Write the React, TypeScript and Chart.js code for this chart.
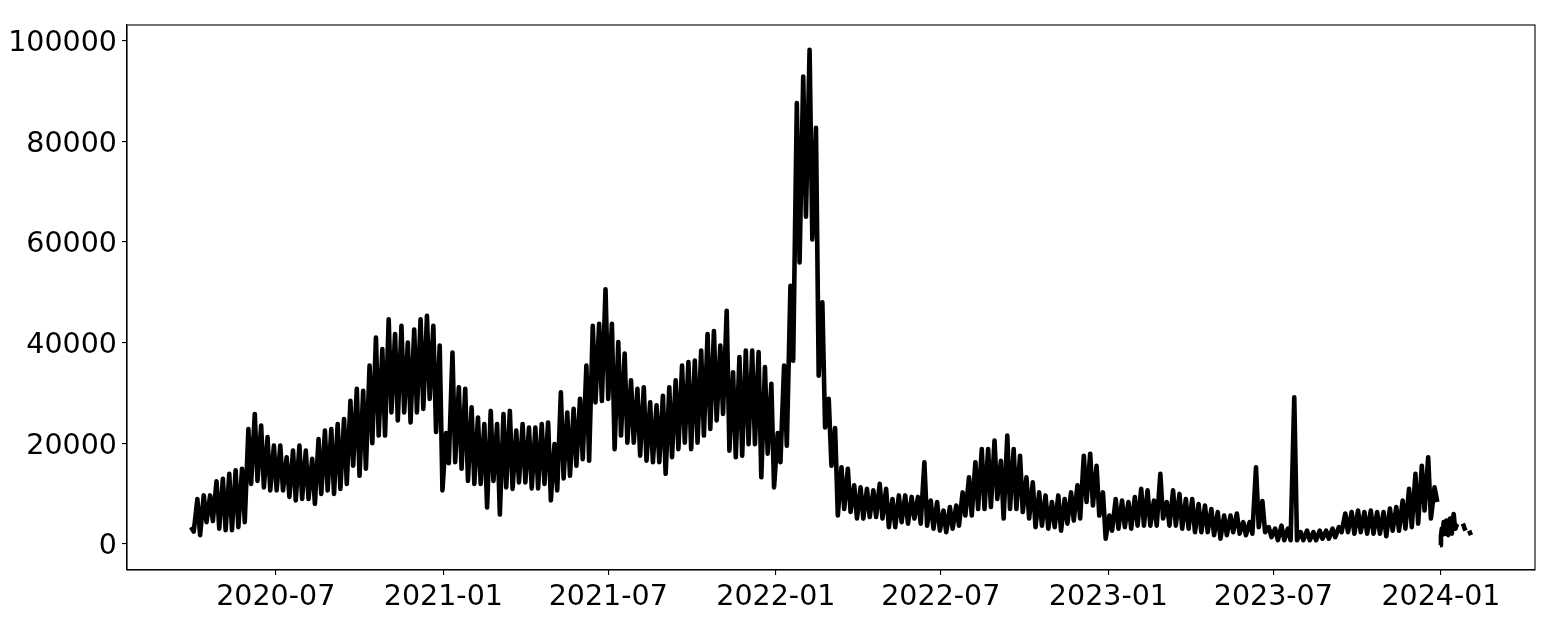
import React, { useEffect, useRef } from "react";
import { Chart, registerables } from "chart.js";

Chart.register(...registerables);

// First day of the first plotted week
const startDate = "2020-03-28";

// Weekly high (mid-week) values, one per week from startDate
const weeklyPeaks: number[] = [
  3300, 8900, 9600, 9600, 12400, 12900, 13900, 14600, 14900, 22800,
  25800, 23500, 21200, 19500, 19500, 17200, 18500, 19500, 18500, 16900,
  20800, 22500, 22800, 23800, 24800, 28400, 30800, 30400, 35400, 41000,
  38700, 44600, 41700, 43300, 40000, 42600, 44600, 45300, 43300, 39400,
  22000, 38000, 31100, 30800, 27100, 25100, 23800, 26400, 23800, 25800,
  26400, 22500, 23800, 23100, 23100, 23800, 24100, 19800, 30100, 26100,
  26800, 28800, 35400, 43300, 43700, 50600, 43700, 40100, 37800, 32500,
  30800, 31100, 28100, 27500, 29400, 31100, 32500, 35400, 36100, 36400,
  38400, 41700, 42300, 39400, 46300, 34100, 37100, 38400, 38400, 38100,
  35100, 31800, 22000, 35400, 51300, 87600, 92900, 98200, 82700, 48000,
  28800, 23000, 15200, 14900, 11600, 11200, 10900, 10600, 11900, 10900,
  8900, 9600, 9600, 9300, 9300, 16200, 8600, 8300, 6600, 7300,
  7600, 10200, 13200, 16200, 18800, 18800, 20500, 16500, 21500, 18800,
  17500, 13200, 12200, 10200, 9600, 8300, 9600, 8900, 10200, 11600,
  17500, 17900, 15500, 10200, 5600, 8900, 8600, 8300, 9300, 10900,
  10600, 8600, 13900, 8300, 10600, 9900, 8900, 8900, 7900, 7600,
  6900, 6300, 5600, 5600, 6000, 4300, 4300, 15200, 8500, 3300,
  3000, 3600, 3000, 29100, 2300, 2600, 2300, 2600, 2600, 3000,
  3300, 6000, 6300, 6600, 6300, 6600, 6300, 6300, 7000, 7300,
  8600, 10900, 13900, 15500, 17200, 11200,
];

// Weekly low (weekend) values, one per week from startDate
const weeklyTroughs: (number | null)[] = [
  2400, 1700, 4300, 4500, 3000, 2700, 2700, 3300, 4300, 11900,
  12500, 11200, 10600, 10600, 10600, 9300, 8600, 8900, 8900, 7900,
  9900, 10600, 9900, 10900, 11900, 15500, 13500, 14900, 20000, 21500,
  21500, 26100, 24500, 26100, 24100, 26100, 26800, 28800, 22200, 10600,
  16000, 16200, 14900, 12500, 11900, 11900, 7200, 12500, 5800, 11200,
  10900, 12200, 12200, 11000, 11000, 11900, 8600, 10600, 13000, 13500,
  15500, 16800, 16500, 28100, 28400, 28800, 18800, 21500, 20100, 20100,
  17500, 16500, 16200, 16200, 13900, 17200, 18800, 20100, 18800, 20100,
  21500, 22800, 24500, 25800, 18500, 17200, 17500, 19800, 19800, 13200,
  17900, 11200, 16200, 19500, 36400, 55900, 65000, 60500, 33400, 23100,
  15500, 5600, 6900, 6300, 5000, 5000, 5300, 5300, 5000, 3300,
  3300, 4300, 4000, 5000, 4000, 3600, 3000, 2600, 2300, 3000,
  3600, 5600, 5600, 6900, 6900, 7300, 8900, 5000, 6900, 6900,
  6300, 5000, 3300, 3600, 3000, 3300, 2600, 4000, 4600, 5000,
  8300, 7600, 5600, 1000, 2600, 3000, 3300, 3000, 3600, 3600,
  3600, 3600, 5000, 3600, 3600, 3000, 3000, 2300, 2300, 2300,
  1700, 1000, 1700, 2300, 2000, 1700, 2000, 3300, 2300, 1300,
  700, 700, 700, 700, 700, 700, 700, 1000, 1000, 1300,
  2300, 2300, 2000, 2300, 2000, 2000, 2000, 1500, 2600, 2600,
  3000, 3300, 4000, 6600, 5000, 8300,
];

// Daily values at the end of the series (gaps are missing days)
const tailStartWeek = 196;
const tailDaily: (number | null)[] = [
  null, -300, 1500, 3000, 1800, 4300, 4000, 2000, 4600, 4300,
  1700, 3800, 5000, 4600, 2000, 4500, 5900, 4000, 3000, 3600,
  3300, null, null, null, null, null, 4000, 3600, 3000, 2600,
  null, null, null, 2600, 2100, 1700,
];

const xTickLabels = ["2020-07", "2021-01", "2021-07", "2022-01", "2022-07", "2023-01", "2023-07", "2024-01"];
const yTickValues = [0, 20000, 40000, 60000, 80000, 100000];

const dayOf = (iso: string) => {
  const parts = iso.split("-").map(Number);
  return Date.UTC(parts[0], parts[1] - 1, parts[2] || 1) / 86400000;
};

export default function App() {
  const ref = useRef<HTMLCanvasElement | null>(null);

  useEffect(() => {
    document.body.style.margin = "0";
    const s = dayOf(startDate);
    const pts: { x: number; y: number | null }[] = [];
    weeklyPeaks.forEach((p, i) => {
      pts.push({ x: s + 7 * i + 2, y: p });
      pts.push({ x: s + 7 * i + 5, y: weeklyTroughs[i] });
    });
    tailDaily.forEach((v, j) => pts.push({ x: s + 7 * tailStartWeek + j, y: v }));

    const valid = pts.filter((p) => p.y !== null) as { x: number; y: number }[];
    const xLo = Math.min(...valid.map((p) => p.x));
    const xHi = Math.max(...valid.map((p) => p.x));
    const yLo = Math.min(...valid.map((p) => p.y));
    const yHi = Math.max(...valid.map((p) => p.y));
    const xm = (xHi - xLo) * 0.05;
    const ym = (yHi - yLo) * 0.05;

    const tickDays = xTickLabels.map(dayOf);
    const font = { family: "'DejaVu Sans', sans-serif", size: 28.5 };

    const framePlugin = {
      id: "frame",
      afterDatasetsDraw(chart: any) {
        const { ctx, chartArea } = chart;
        ctx.save();
        ctx.strokeStyle = "#000";
        ctx.lineWidth = 1.1;
        ctx.strokeRect(chartArea.left, chartArea.top, chartArea.right - chartArea.left, chartArea.bottom - chartArea.top);
        ctx.restore();
      },
    };

    const chart = new Chart(ref.current as HTMLCanvasElement, {
      type: "line",
      data: {
        datasets: [
          {
            data: pts as any,
            borderColor: "#000",
            borderWidth: 4.6,
            pointRadius: 0,
            tension: 0,
            spanGaps: false,
            borderJoinStyle: "round",
            borderCapStyle: "butt",
            fill: false,
          },
        ],
      },
      options: {
        animation: false,
        responsive: false,
        devicePixelRatio: 1,
        layout: { padding: { top: 25, right: 13, left: 0, bottom: 0 } },
        plugins: { legend: { display: false }, tooltip: { enabled: false } },
        scales: {
          x: {
            type: "linear",
            min: xLo - xm,
            max: xHi + xm,
            afterFit: (sc: any) => {
              sc.height = 55;
            },
            afterBuildTicks: (sc: any) => {
              sc.ticks = tickDays.map((v) => ({ value: v }));
            },
            grid: { drawOnChartArea: false, drawTicks: true, tickLength: 5, color: "#000", lineWidth: 1.1 },
            border: { display: true, color: "#000", width: 1.1 },
            ticks: {
              autoSkip: false,
              maxRotation: 0,
              minRotation: 0,
              padding: 5,
              color: "#000",
              font,
              callback: (v: any) => {
                const i = tickDays.indexOf(Number(v));
                return i >= 0 ? xTickLabels[i] : "";
              },
            },
          },
          y: {
            type: "linear",
            min: yLo - ym,
            max: yHi + ym,
            afterFit: (sc: any) => {
              sc.width = 127;
            },
            afterBuildTicks: (sc: any) => {
              sc.ticks = yTickValues.map((v) => ({ value: v }));
            },
            grid: { drawOnChartArea: false, drawTicks: true, tickLength: 5, color: "#000", lineWidth: 1.1 },
            border: { display: true, color: "#000", width: 1.1 },
            ticks: {
              autoSkip: false,
              padding: 5,
              labelOffset: 3,
              color: "#000",
              font,
              callback: (v: any) => String(v),
            },
          },
        },
      },
      plugins: [framePlugin],
    });
    return () => chart.destroy();
  }, []);

  return (
    <div style={{ width: 1548, height: 625, background: "#fff" }}>
      <canvas ref={ref} width={1548} height={625} style={{ display: "block", width: 1548, height: 625 }} />
    </div>
  );
}
